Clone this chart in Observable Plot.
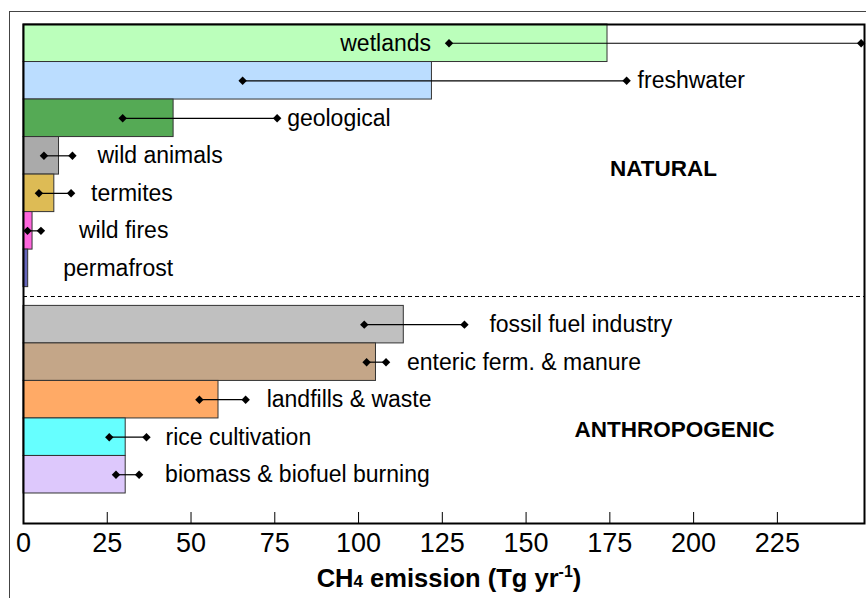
<!DOCTYPE html>
<html>
<head>
<meta charset="utf-8">
<script src="https://cdn.jsdelivr.net/npm/d3@7"></script>
<script src="https://cdn.jsdelivr.net/npm/@observablehq/plot@0.6"></script>
<style>
html, body { margin: 0; padding: 0; background: #fff; }
#wrap { position: relative; width: 866px; height: 598px; overflow: hidden; }
#chart { position: absolute; left: 0; top: 0; }
#border { position: absolute; left: 9px; top: 11px; width: 900px; height: 700px;
  border-left: 1.5px solid #444; border-top: 1.5px solid #444; pointer-events: none; }
</style>
</head>
<body>
<div id="wrap"><div id="chart"></div><div id="border"></div></div>
<script>
// ---------- data (Tg CH4 per year) ----------
const naturalSources = ["wetlands", "freshwater", "geological", "wild animals", "termites", "wild fires", "permafrost"];
const naturalValues  = [174.3, 121.9, 44.8, 10.6, 9.2, 2.7, 1.4];
const naturalLow     = [127.0, 65.4, 29.6, 6.1, 4.6, 1.2, null];
const naturalHigh    = [250.0, 180.0, 75.7, 14.6, 14.2, 5.2, null];

const anthroSources = ["fossil fuel industry", "enteric ferm. & manure", "landfills & waste", "rice cultivation", "biomass & biofuel burning"];
const anthroValues  = [113.5, 105.2, 58.2, 30.5, 30.5];
const anthroLow     = [101.7, 102.4, 52.5, 25.6, 27.6];
const anthroHigh    = [131.6, 108.2, 66.3, 36.7, 34.5];

const xTicks = [0, 25, 50, 75, 100, 125, 150, 175, 200, 225];
const groupNames = ["NATURAL", "ANTHROPOGENIC"];

// ---------- styles / layout ----------
const naturalColors = ["#bbffbb", "#bbddff", "#55aa55", "#aaaaaa", "#ddbb55", "#ff66dd", "#6666bb"];
const anthroColors  = ["#c0c0c0", "#c4a688", "#ffaa66", "#66ffff", "#ddc8fc"];
const labelGap = {
  "wetlands": -18, "freshwater": 11, "geological": 10, "wild animals": 25, "termites": 20,
  "wild fires": 38, "permafrost": 35,
  "fossil fuel industry": 25, "enteric ferm. & manure": 21, "landfills & waste": 21,
  "rice cultivation": 19, "biomass & biofuel burning": 26
};
const groupLabelPos = [{x: 191.0, y: 3.85}, {x: 194.3, y: 10.8}];
const GROUP_GAP = 0.5;
const BOTTOM_PAD = 0.8;
const FONT = "'Liberation Sans', Arial, Helvetica, sans-serif";

// ---------- build rows ----------
const rows = [];
naturalSources.forEach((name, i) => rows.push({
  name, value: naturalValues[i], lo: naturalLow[i], hi: naturalHigh[i], color: naturalColors[i],
  y1: i, y2: i + 1
}));
anthroSources.forEach((name, j) => {
  const s = naturalSources.length + GROUP_GAP + j;
  rows.push({
    name, value: anthroValues[j], lo: anthroLow[j], hi: anthroHigh[j], color: anthroColors[j],
    y1: s, y2: s + 1
  });
});
rows.forEach(r => { r.yc = (r.y1 + r.y2) / 2; });
const whisker = rows.filter(r => r.lo != null);
const sepY = naturalSources.length + GROUP_GAP / 2;
const yMax = naturalSources.length + GROUP_GAP + anthroSources.length + BOTTOM_PAD;
const groups = groupNames.map((name, i) => ({name, ...groupLabelPos[i]}));

const labelMarks = rows.map(r => {
  const gap = labelGap[r.name];
  const endAnchored = gap < 0;
  return Plot.text([r], {
    x: d => endAnchored ? d.lo : (d.hi ?? d.value),
    y: "yc",
    text: "name",
    textAnchor: endAnchored ? "end" : "start",
    dx: gap,
    fontSize: 23,
    fill: "#000"
  });
});

const chart = Plot.plot({
  width: 866,
  height: 598,
  marginLeft: 23,
  marginRight: 2,
  marginTop: 24,
  marginBottom: 75,
  style: {fontFamily: FONT, background: "transparent", color: "#000"},
  x: {domain: [0, 251]},
  y: {domain: [0, yMax], reverse: true, axis: null},
  color: {type: "identity"},
  marks: [
    Plot.rectX(rows, {x1: d => 0, x2: "value", y1: "y1", y2: "y2", fill: "color", stroke: "#333", strokeWidth: 1}),
    Plot.ruleY([sepY], {stroke: "#000", strokeWidth: 1, strokeDasharray: "4,3"}),
    Plot.ruleY(whisker, {y: "yc", x1: "lo", x2: "hi", stroke: "#000", strokeWidth: 1.2}),
    Plot.dot(whisker, {x: "lo", y: "yc", symbol: "diamond2", r: 3.8, fill: "#000", stroke: "none"}),
    Plot.dot(whisker, {x: "hi", y: "yc", symbol: "diamond2", r: 3.8, fill: "#000", stroke: "none"}),
    ...labelMarks,
    Plot.text(groups, {x: "x", y: "y", text: "name", fontSize: 22.5, fontWeight: "bold", fill: "#000"}),
    Plot.axisX({ticks: xTicks, tickFormat: d => String(d), tickSize: 11, dy: -11, tickPadding: 9,
      fontSize: 27, label: null, stroke: "#000"}),
    Plot.frame({stroke: "#000", strokeWidth: 2})
  ]
});

document.getElementById("chart").appendChild(chart);

// axis title with subscript / superscript
const t = d3.select(chart).append("text")
  .attr("x", 449).attr("y", 587)
  .attr("text-anchor", "middle")
  .attr("font-family", FONT)
  .attr("font-size", 25.5)
  .attr("font-weight", "bold")
  .attr("fill", "#000");
t.append("tspan").text("CH");
t.append("tspan").attr("font-size", 17).text("4");
t.append("tspan").text(" emission (Tg yr");
t.append("tspan").attr("font-size", 16).attr("dy", -10).text("-1");
t.append("tspan").attr("dy", 10).text(")");
</script>
</body>
</html>
